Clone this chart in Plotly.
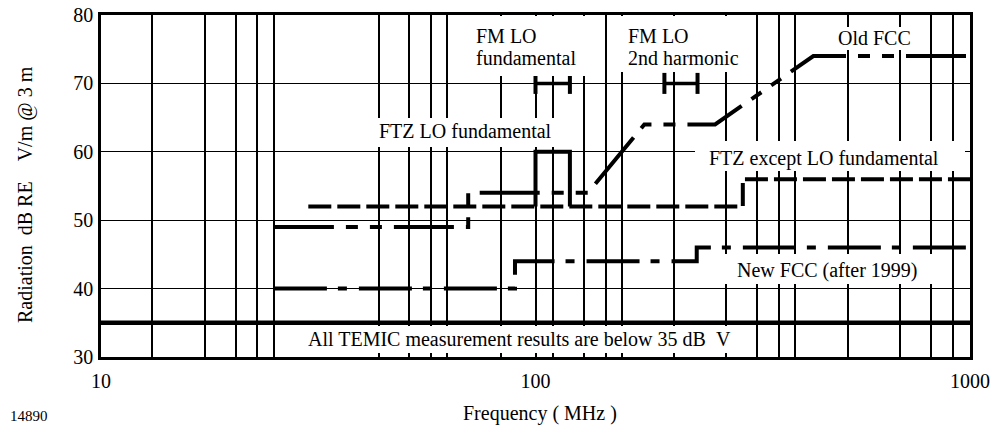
import numpy as np
import plotly.graph_objects as go

# ---------------- data ----------------
grid_freqs = [13.1, 17.35, 20.45, 22.9, 25.0, 43.6, 51.2, 57.5, 62.6, 83.3, 100,
              109.7, 129.3, 145.3, 158.2, 208.4, 274.5, 323.4, 363.5, 395.7,
              524, 690, 813, 914]
x_tick_labels = {10: "10", 100: "100", 1000: "1000"}
y_ticks = [30, 40, 50, 60, 70, 80]

temic_f = [10, 1000]
temic_db = [35, 35]

new_fcc_f = [25, 89.7, 89.7, 235, 235, 1000]
new_fcc_db = [40, 40, 44, 44, 46, 46]

old_fcc_f = [25, 70, 70, 132, 178, 259, 436, 1000]
old_fcc_db = [49, 49, 54, 54, 64, 64, 74, 74]

ftz_except_f = [30, 300, 300, 1000]
ftz_except_db = [52, 52, 56, 56]

ftz_lo_f = [100, 100, 120, 120]
ftz_lo_db = [52, 60, 60, 52]

fm_lo_fund_f = [100, 120]
fm_lo_fund_db = [70, 70]
fm_lo_2nd_f = [198, 236]
fm_lo_2nd_db = [70, 70]

# ---------------- figure ----------------
FONT = "Liberation Serif, Times New Roman, DejaVu Serif, serif"
fig = go.Figure()

def line(x, y, dash="solid", width=4):
    fig.add_trace(go.Scatter(x=x, y=y, mode="lines",
                             line=dict(color="black", width=width, dash=dash),
                             hoverinfo="skip"))

line(temic_f, temic_db, "solid", 4.5)
line(new_fcc_f, new_fcc_db, "53px,11px,9px,12px", 4)
line(old_fcc_f, old_fcc_db, "60px,12px,12px,12px,12px,12px", 4)
line(ftz_except_f, ftz_except_db, "23px,6px", 4)
line(ftz_lo_f, ftz_lo_db, "solid", 4)

for fx, fy in [(fm_lo_fund_f, fm_lo_fund_db), (fm_lo_2nd_f, fm_lo_2nd_db)]:
    fig.add_trace(go.Scatter(x=fx, y=fy, mode="lines+markers",
                             line=dict(color="black", width=3.5),
                             marker=dict(symbol="line-ns", size=15,
                                         line=dict(width=4, color="black")),
                             hoverinfo="skip"))

tickvals = [10] + grid_freqs + [1000]
ticktext = [x_tick_labels.get(v, "") for v in tickvals]

L, R, T, B = 101, 970, 15, 357
W, H = R - L, B - T

def px(xp):
    return (xp - L) / W

def py(yp):
    return (B - yp) / H

fig.update_layout(
    width=992, height=425,
    margin=dict(l=L, r=992 - R, t=T, b=425 - B, autoexpand=False),
    plot_bgcolor="white", paper_bgcolor="white",
    showlegend=False,
    font=dict(family=FONT, size=20, color="black"),
    xaxis=dict(type="log", range=[1, 3], tickmode="array",
               tickvals=tickvals, ticktext=ticktext, automargin=False,
               showgrid=True, gridcolor="black", gridwidth=1.5,
               showline=True, linecolor="black", linewidth=2.5, mirror=True,
               ticks="", ticklabelstandoff=4, zeroline=False,
               tickfont=dict(family=FONT, size=20)),
    yaxis=dict(range=[30, 80], tickmode="array", tickvals=y_ticks, automargin=False,
               showgrid=True, gridcolor="black", gridwidth=1,
               showline=True, linecolor="black", linewidth=2.5, mirror=True,
               ticks="", ticklabelstandoff=1, zeroline=False,
               tickfont=dict(family=FONT, size=20)),
)

# white label backgrounds that hide grid lines
def white_box(x0, x1, y0, y1):
    fig.add_annotation(text="\u00a0", xref="paper", yref="paper",
                       x=px(x0), y=py(y0), xanchor="left", yanchor="top",
                       width=x1 - x0, height=y1 - y0, borderpad=0, borderwidth=0,
                       showarrow=False, bgcolor="white")

white_box(458, 596, 16, 76)     # FM LO fundamental
white_box(613, 750, 16, 72)     # FM LO 2nd harmonic
white_box(830, 916, 27, 50)     # Old FCC
white_box(372, 557, 118, 147)   # FTZ LO fundamental
white_box(695, 965, 141, 171)   # FTZ except LO fundamental
white_box(722, 936, 254, 284)   # New FCC
white_box(285, 746, 326, 353)   # All TEMIC

def label(text, xp, yp, size=20, xanchor="left", angle=0):
    fig.add_annotation(text=text, xref="paper", yref="paper",
                       x=px(xp), y=py(yp), xanchor=xanchor, yanchor="middle",
                       showarrow=False, textangle=angle,
                       font=dict(family=FONT, size=size, color="black"))

label("FM LO", 474, 36)
label("fundamental", 474, 58)
label("FM LO", 626, 36)
label("2nd harmonic", 626, 58)
label("Old FCC", 836, 38)
label("FTZ LO fundamental", 377, 131)
label("FTZ except LO fundamental", 707, 158)
label("New FCC (after 1999)", 735, 270)
label("All TEMIC measurement results are below 35 dB\u00a0\u00a0V", 306, 339)

# axis titles and figure number
label("Radiation\u00a0\u00a0dB RE\u00a0\u00a0\u00a0\u00a0V/m @ 3 m", 25, 195, xanchor="center", angle=-90)
label("Frequency ( MHz )", 540, 413, xanchor="center")
label("14890", 8, 416, size=15)

fig.write_html("out.html", config={"displayModeBar": False},
               post_script="document.body.style.margin='0';")
